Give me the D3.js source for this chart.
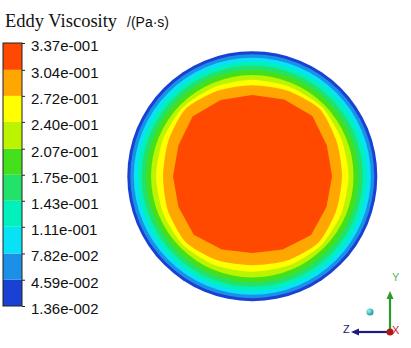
<!DOCTYPE html>
<html>
<head>
<meta charset="utf-8">
<script src="https://cdn.jsdelivr.net/npm/d3@7"></script>
<style>
  html, body { margin: 0; padding: 0; background: #fff; }
  svg { display: block; }
</style>
</head>
<body>
<svg id="chart" width="411" height="348"></svg>
<script>
// Contour levels of eddy viscosity (Pa·s), low to high
const levels = [0.0136, 0.0459, 0.0782, 0.111, 0.143, 0.175, 0.207, 0.240, 0.272, 0.304, 0.337];
const tickLabels = ["1.36e-002", "4.59e-002", "7.82e-002", "1.11e-001", "1.43e-001",
                    "1.75e-001", "2.07e-001", "2.40e-001", "2.72e-001", "3.04e-001", "3.37e-001"];
// Fill colour of each band between consecutive levels
const bandColors = ["#1a40d4", "#1c90e6", "#08e2f6", "#02f0bc", "#22e26a",
                    "#44e01c", "#bcf400", "#ffff00", "#ffa600", "#ff4800"];

// Radial position (r / pipe radius) of the circular iso-lines, levels 0.0136 .. 0.207
const ringRadius = [1.0, 0.976, 0.948, 0.918, 0.885, 0.85, 0.81];
// Non-circular iso-lines, sampled every 22.5° (clockwise from +x on screen)
const outlineAngles = [0, 22.5, 45, 67.5, 90, 112.5, 135, 157.5, 180, 202.5, 225, 247.5, 270, 292.5, 315, 337.5];
const edge240 = [0.77, 0.772, 0.78, 0.772, 0.765, 0.772, 0.78, 0.772, 0.77, 0.772, 0.782, 0.775, 0.772, 0.775, 0.785, 0.772];
const edge272 = [0.718, 0.726, 0.75, 0.73, 0.712, 0.728, 0.75, 0.73, 0.714, 0.728, 0.758, 0.738, 0.728, 0.74, 0.762, 0.73];
const edge304 = [0.638, 0.642, 0.665, 0.635, 0.614, 0.635, 0.662, 0.64, 0.634, 0.64, 0.676, 0.66, 0.65, 0.665, 0.68, 0.645];

const svg = d3.select("#chart");
svg.append("rect").attr("width", 411).attr("height", 348).attr("fill", "#fff");

// ---- Title ----
const title = svg.append("text").attr("x", 5).attr("y", 27);
title.append("tspan")
  .attr("font-family", "'Liberation Serif', 'Times New Roman', serif")
  .attr("font-size", 18.5).attr("fill", "#111")
  .text("Eddy Viscosity ");
title.append("tspan")
  .attr("x", 127)
  .attr("font-family", "'Liberation Sans', Arial, sans-serif")
  .attr("font-size", 14).attr("fill", "#111")
  .text("/(Pa·s)");

// ---- Colour legend ----
const legendY = d3.scaleLinear().domain([levels[0], levels[levels.length - 1]]).range([306, 43]);
const legend = svg.append("g");
legend.selectAll("rect.band")
  .data(bandColors)
  .join("rect")
  .attr("class", "band")
  .attr("x", 3)
  .attr("width", 19)
  .attr("y", (d, i) => legendY(levels[i + 1]))
  .attr("height", (d, i) => legendY(levels[i]) - legendY(levels[i + 1]))
  .attr("fill", d => d);
legend.append("rect")
  .attr("x", 3).attr("y", legendY(levels[levels.length - 1]))
  .attr("width", 19).attr("height", legendY(levels[0]) - legendY(levels[levels.length - 1]))
  .attr("fill", "none").attr("stroke", "#222").attr("stroke-width", 1);

const legendAxis = d3.axisRight(legendY)
  .tickValues(levels)
  .tickSize(3)
  .tickPadding(6)
  .tickFormat((d, i) => tickLabels[i]);
const ax = legend.append("g").attr("transform", "translate(22,0)").call(legendAxis);
ax.select(".domain").remove();
ax.selectAll(".tick line").attr("stroke", "#222");
ax.selectAll(".tick text")
  .attr("font-family", "'Liberation Sans', Arial, sans-serif")
  .attr("font-size", 15)
  .attr("fill", "#111")
  .attr("dy", "0.5em");

// ---- Contour disc ----
const cx = 252.3, cy = 176.2;
const rScale = d3.scaleLinear().domain([0, 1]).range([0, 125]);
const disc = svg.append("g").attr("transform", `translate(${cx},${cy})`);

// circular rings, outermost first
ringRadius.forEach((rr, i) => {
  disc.append("circle").attr("r", rScale(rr)).attr("fill", bandColors[i]);
});

// non-circular iso-lines as closed radial paths (0° = +x, clockwise on screen)
const radial = d3.lineRadial()
  .angle(d => (d[0] + 90) * Math.PI / 180)
  .radius(d => rScale(d[1]));
const outlines = [edge240, edge272, edge304];
outlines.forEach((edge, k) => {
  const pts = outlineAngles.map((a, j) => [a, edge[j]]);
  disc.append("path")
    .attr("d", radial.curve(k === 2 ? d3.curveLinearClosed : d3.curveCardinalClosed.tension(0.3))(pts))
    .attr("fill", bandColors[7 + k]);
});

// ---- Coordinate triad ----
const triad = svg.append("g");
const ox = 390, oy = 332;
triad.append("line").attr("x1", ox).attr("y1", oy).attr("x2", ox).attr("y2", 298)
  .attr("stroke", "#2a9a2a").attr("stroke-width", 2.2);
triad.append("path").attr("d", `M${ox - 3.5},299 L${ox},291 L${ox + 3.5},299 Z`).attr("fill", "#2a9a2a");
triad.append("line").attr("x1", ox).attr("y1", oy).attr("x2", 358).attr("y2", oy)
  .attr("stroke", "#1a1a80").attr("stroke-width", 2.2);
triad.append("path").attr("d", `M359,${oy - 3.5} L351,${oy} L359,${oy + 3.5} Z`).attr("fill", "#1a1a80");

const grad = svg.append("defs").append("radialGradient").attr("id", "sph")
  .attr("cx", "35%").attr("cy", "35%").attr("r", "65%");
grad.append("stop").attr("offset", "0%").attr("stop-color", "#9ff4f4");
grad.append("stop").attr("offset", "100%").attr("stop-color", "#1a9a9a");
triad.append("circle").attr("cx", 370).attr("cy", 312).attr("r", 3.5).attr("fill", "url(#sph)");
triad.append("circle").attr("cx", ox).attr("cy", oy).attr("r", 3.5).attr("fill", "#b01818");

const axisFont = "'Liberation Sans', Arial, sans-serif";
triad.append("text").attr("x", 392).attr("y", 281).attr("font-family", axisFont)
  .attr("font-size", 11).attr("fill", "#5cb85c").text("Y");
triad.append("text").attr("x", 392).attr("y", 334).attr("font-family", axisFont)
  .attr("font-size", 11).attr("fill", "#d02020").text("X");
triad.append("text").attr("x", 343).attr("y", 333).attr("font-family", axisFont)
  .attr("font-size", 11).attr("fill", "#1a1a60").text("Z");
</script>
</body>
</html>
